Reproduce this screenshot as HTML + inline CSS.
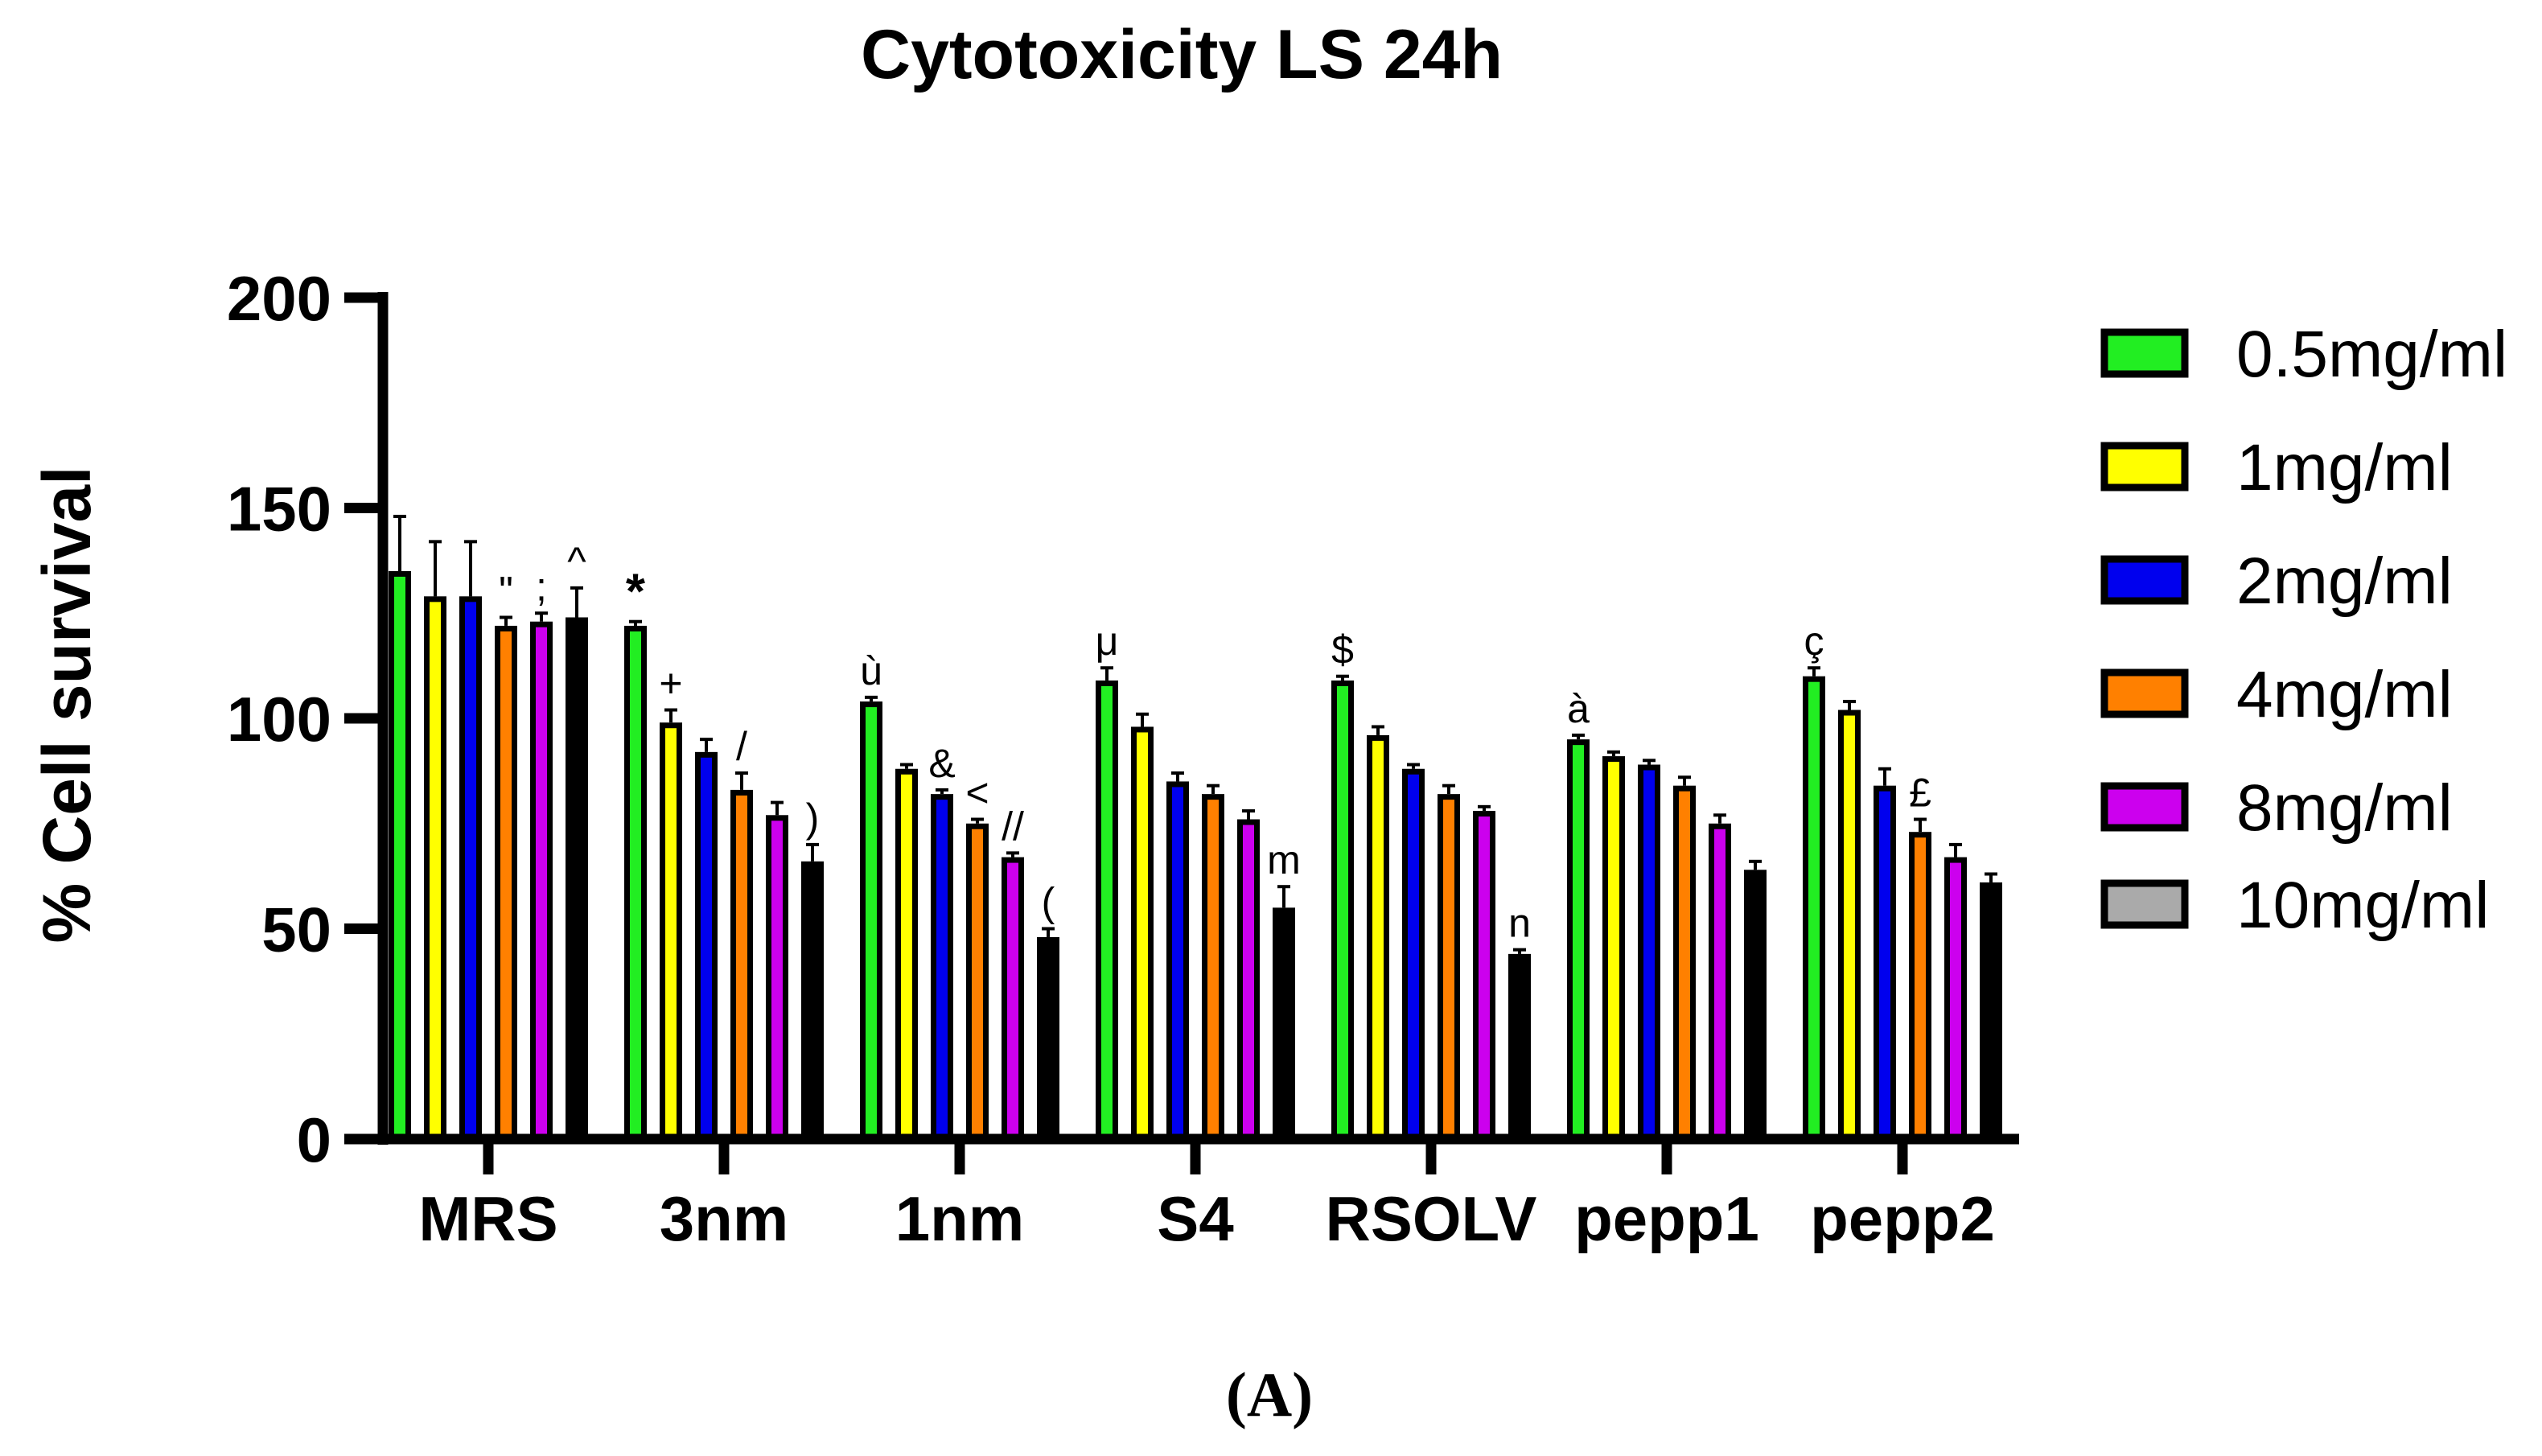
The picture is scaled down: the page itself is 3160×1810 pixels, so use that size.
<!DOCTYPE html>
<html><head><meta charset="utf-8"><style>
html,body{margin:0;padding:0;background:#fff;}
svg{display:block;}
</style></head><body>
<svg id="chart" width="3160" height="1810" viewBox="0 0 3160 1810" xmlns="http://www.w3.org/2000/svg" font-family="Liberation Sans, Arial, sans-serif">
<text x="1469" y="97" text-anchor="middle" font-weight="bold" font-size="86">Cytotoxicity LS 24h</text>
<text transform="translate(112,876) rotate(-90)" text-anchor="middle" font-weight="bold" font-size="84">% Cell survival</text>
<text x="1578" y="1760" text-anchor="middle" font-weight="bold" font-size="78" font-family="Liberation Serif, serif">(A)</text>
<g id="plot"></g>
</svg>
<script>
const categories = ["MRS","3nm","1nm","S4","RSOLV","pepp1","pepp2"];
const seriesNames = ["0.5mg/ml","1mg/ml","2mg/ml","4mg/ml","8mg/ml","10mg/ml"];
const s05 = [135,122,104,109,109,95,110];
const s1  = [129,99,88,98,96,91,102];
const s2  = [129,92,82,85,88,89,84];
const s4  = [122,83,75,82,82,84,73];
const s8  = [123,77,67,76,78,75,67];
const s10 = [124,66,48,55,44,64,61];
const e05 = [13,1,1,3,1,1,2];
const e1  = [13,3,1,3,2,1,2];
const e2  = [13,3,1,2,1,1,4];
const e4  = [2,4,1,2,2,2,3];
const e8  = [2,3,1,2,1,2,3];
const e10 = [7,4,2,5,1,2,2];
const marks05 = ["","*","ù","μ","$","à","ç"];
const marks1  = ["","+","","","","",""];
const marks2  = ["","","&","","","",""];
const marks4  = ["\"","/","<","","","","£"];
const marks8  = [";","","//","","","",""];
const marks10 = ["^",")","(","m","n","",""];
const yTicks = [0,50,100,150,200];

const series=[s05,s1,s2,s4,s8,s10], errs=[e05,e1,e2,e4,e8,e10], marks=[marks05,marks1,marks2,marks4,marks8,marks10];
const colors=["#22ee22","#ffff00","#0000ee","#ff8000","#cc00ee","#000000"];
const legendFill=["#22ee22","#ffff00","#0000ee","#ff8000","#cc00ee","#aaaaaa"];
const NS="http://www.w3.org/2000/svg";
const plot=document.getElementById('plot');
const Y0=1416, Y200=370, AX=476, AXEND=2510;
const y=v=>Y0-(v/200)*(Y0-Y200);
const gx=i=>607+i*293;
const bx=(i,j)=>gx(i)+(j-2.5)*44;
function mk(tag,attrs,parent){const e=document.createElementNS(NS,tag);for(const k in attrs)e.setAttribute(k,attrs[k]);(parent||plot).appendChild(e);return e;}

categories.forEach((c,i)=>{
  series.forEach((s,j)=>{
    const v=s[i], x=bx(i,j), top=y(v), et=y(v+errs[j][i]);
    const eb=mk('line',{x1:x,x2:x,y1:top,y2:et,stroke:'#000','stroke-width':4});
    
    
    const cap=mk('line',{x1:x-8,x2:x+8,y1:et,y2:et,stroke:'#000','stroke-width':4});
    
    
    const r=mk('rect',{x:x-10.5,y:top+3.5,width:21,height:Y0-top-3.5,fill:colors[j],stroke:'#000','stroke-width':7});
    
    
    const m=marks[j][i];
    if(m){
      const t=mk('text',{x:x,y:et-16,'text-anchor':'middle','font-size':m==='*'?62:50,'font-weight':m==='*'?'bold':'normal'});
      t.textContent=m;
      
      
    }
  });
  const tk=mk('line',{x1:gx(i),x2:gx(i),y1:Y0,y2:1460,stroke:'#000','stroke-width':13});
  
  
  const lb=mk('text',{x:gx(i),y:1542,'text-anchor':'middle','font-weight':'bold','font-size':78});
  lb.textContent=c;
  
  
});
const ya=mk('line',{x1:AX,x2:AX,y1:Y200-7,y2:Y0+7,stroke:'#000','stroke-width':13});


const xa=mk('line',{x1:AX-7,x2:AXEND,y1:Y0,y2:Y0,stroke:'#000','stroke-width':13});


yTicks.forEach(v=>{
  const t=mk('line',{x1:428,x2:AX,y1:y(v),y2:y(v),stroke:'#000','stroke-width':13});
  
  
  const l=mk('text',{x:412,y:y(v)+28,'text-anchor':'end','font-weight':'bold','font-size':78});
  l.textContent=v;
  
  
});
seriesNames.forEach((n,j)=>{
  const cy=[439,580,721,862,1003,1124][j];
  const g=mk('g',{});
  
  
  mk('rect',{x:2616,y:cy-26,width:100,height:52,fill:legendFill[j],stroke:'#000','stroke-width':9},g);
  const t=mk('text',{x:2780,y:cy+29,'font-size':82},g);
  t.textContent=n;
});
</script>
</body></html>
